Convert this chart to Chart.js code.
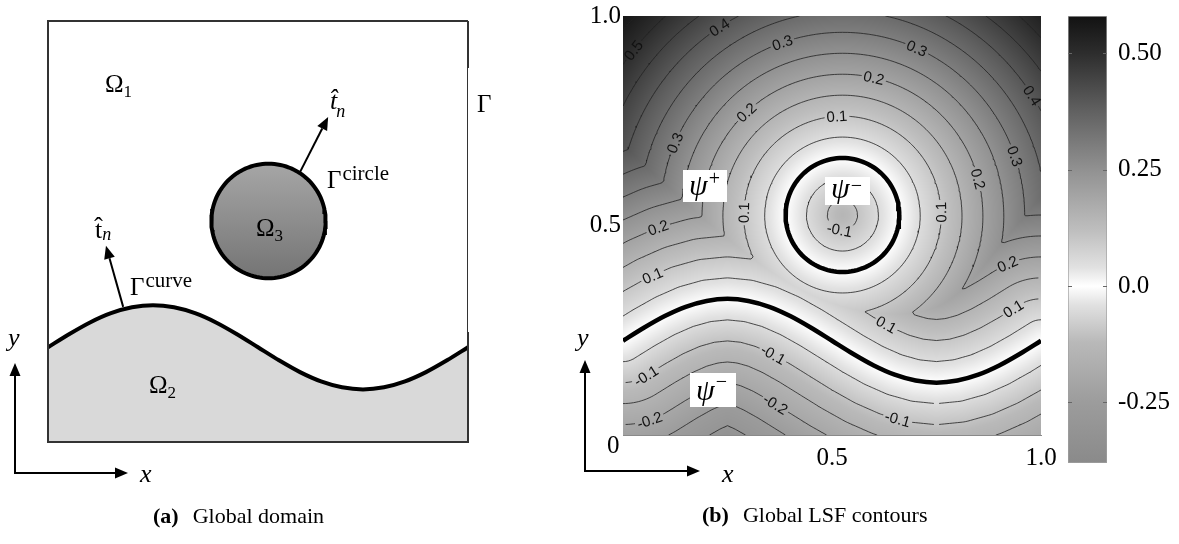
<!DOCTYPE html>
<html>
<head>
<meta charset="utf-8">
<script src="https://cdn.jsdelivr.net/npm/chart.js@4.4.1/dist/chart.umd.min.js"></script>
<style>
html, body { margin: 0; padding: 0; background: #fff; }
#wrap { position: relative; width: 1179px; height: 544px; overflow: hidden; }
canvas { position: absolute; top: 0; }
</style>
</head>
<body>
<div id="wrap">
  <canvas id="domain" width="560" height="544" style="left:0"></canvas>
  <canvas id="lsf" width="500" height="544" style="left:560px"></canvas>
  <canvas id="cbar" width="129" height="544" style="left:1050px"></canvas>
</div>
<script>
// Interface geometry (unit square domain)
const curveX = [0, 0.05, 0.1, 0.15, 0.2, 0.25, 0.3, 0.35, 0.4, 0.45, 0.5,
                0.55, 0.6, 0.65, 0.7, 0.75, 0.8, 0.85, 0.9, 0.95, 1.0];
const curveY = [0.225, 0.256, 0.284, 0.306, 0.320, 0.325, 0.320, 0.306, 0.284, 0.256, 0.225,
                0.194, 0.166, 0.144, 0.130, 0.125, 0.130, 0.144, 0.166, 0.194, 0.225];
const circleCenter = [0.525, 0.525];
const circleRadius = 0.136;

// Contour levels (0 is drawn as the thick interface lines)
const contourLevels = [-0.3, -0.25, -0.2, -0.15, -0.1, -0.05,
                       0.05, 0.1, 0.15, 0.2, 0.25, 0.3, 0.35, 0.4, 0.45, 0.5, 0.55];

// Inline contour labels: value and rough spot where it sits
const labelValues = [0.5, 0.4, 0.3, 0.3, 0.2, 0.4, 0.2, 0.1, 0.3, 0.3, 0.2, 0.1,
                     0.1, -0.1, 0.2, 0.2, 0.1, 0.1, 0.1, -0.1, -0.1, -0.2, -0.1, -0.2];
const labelX = [0.024, 0.232, 0.383, 0.699, 0.598, 0.969, 0.297, 0.512, 0.124, 0.933, 0.842, 0.299,
                0.763, 0.519, 0.084, 0.921, 0.072, 0.938, 0.627, 0.356, 0.057, 0.364, 0.655, 0.065];
const labelY = [0.919, 0.971, 0.931, 0.914, 0.843, 0.804, 0.768, 0.759, 0.697, 0.664, 0.609, 0.530,
                0.532, 0.494, 0.494, 0.406, 0.377, 0.294, 0.258, 0.186, 0.138, 0.072, 0.031, 0.031];

// Axis ticks
const axisTicks = [0.5, 1.0];
const axisTickLabels = ['0.5', '1.0'];

// Colour bar
const cbarRange = [-0.38, 0.58];
const cbarTicks = [-0.25, 0, 0.25, 0.5];
const cbarTickLabels = ['-0.25', '0.0', '0.25', '0.50'];
const cmapStops = [-0.38, -0.25, -0.12, -0.04, 0, 0.04, 0.12, 0.25, 0.38, 0.5, 0.58];
const cmapGrays = [138, 156, 185, 225, 255, 225, 190, 145, 95, 45, 18];

Chart.defaults.font.family = '"Liberation Serif", serif';
Chart.defaults.color = '#000';

const SERIF = '"Liberation Serif", serif';
const LABEL_FONT = '15px "Liberation Sans", Arial, sans-serif';

function curveYAt(x) {
    for (let k = 0; k < curveX.length - 1; k++) {
        if (x <= curveX[k + 1]) {
            const t = (x - curveX[k]) / (curveX[k + 1] - curveX[k]);
            return curveY[k] + t * (curveY[k + 1] - curveY[k]);
        }
    }
    return curveY[curveY.length - 1];
}

// Signed distance level-set function: negative below the curve and inside the circle
function lsf(x, y) {
    let best = Infinity;
    for (let k = 0; k < curveX.length - 1; k++) {
        const ax = curveX[k], ay = curveY[k];
        const dx = curveX[k + 1] - ax, dy = curveY[k + 1] - ay;
        let t = ((x - ax) * dx + (y - ay) * dy) / (dx * dx + dy * dy);
        t = Math.max(0, Math.min(1, t));
        const ex = ax + t * dx - x, ey = ay + t * dy - y;
        const d = ex * ex + ey * ey;
        if (d < best) best = d;
    }
    const dCurve = (y >= curveYAt(x) ? 1 : -1) * Math.sqrt(best);
    const dCircle = Math.hypot(x - circleCenter[0], y - circleCenter[1]) - circleRadius;
    return Math.min(dCurve, dCircle);
}

function grayFor(v) {
    if (v <= cmapStops[0]) return cmapGrays[0];
    for (let k = 0; k < cmapStops.length - 1; k++) {
        if (v <= cmapStops[k + 1]) {
            const t = (v - cmapStops[k]) / (cmapStops[k + 1] - cmapStops[k]);
            return Math.round(cmapGrays[k] + t * (cmapGrays[k + 1] - cmapGrays[k]));
        }
    }
    return cmapGrays[cmapGrays.length - 1];
}

function curvePoints() {
    return curveX.map((x, i) => ({ x: x, y: curveY[i] }));
}

function circlePoints() {
    const pts = [];
    for (let k = 0; k <= 120; k++) {
        const a = k / 120 * 2 * Math.PI;
        pts.push({ x: circleCenter[0] + circleRadius * Math.cos(a), y: circleCenter[1] + circleRadius * Math.sin(a) });
    }
    return pts;
}

// Marching squares on a grid sampled from the LSF
const N = 161;
const grid = [];
for (let j = 0; j < N; j++) {
    const row = [];
    for (let i = 0; i < N; i++) row.push(lsf(i / (N - 1), j / (N - 1)));
    grid.push(row);
}

function contourData(level) {
    const pts = [];
    const s = 1 / (N - 1);
    for (let j = 0; j < N - 1; j++) {
        for (let i = 0; i < N - 1; i++) {
            const v = [grid[j][i], grid[j][i + 1], grid[j + 1][i + 1], grid[j + 1][i]];
            const X = [i * s, (i + 1) * s, (i + 1) * s, i * s];
            const Y = [j * s, j * s, (j + 1) * s, (j + 1) * s];
            const cross = [];
            for (let e = 0; e < 4; e++) {
                const a = e, b = (e + 1) % 4;
                if ((v[a] - level) * (v[b] - level) < 0) {
                    const t = (level - v[a]) / (v[b] - v[a]);
                    cross.push({ x: X[a] + t * (X[b] - X[a]), y: Y[a] + t * (Y[b] - Y[a]) });
                }
            }
            if (cross.length === 2) {
                pts.push(cross[0], cross[1], { x: cross[1].x, y: null });
            } else if (cross.length === 4) {
                const c = (v[0] + v[1] + v[2] + v[3]) / 4;
                if ((c - level) * (v[0] - level) > 0) {
                    pts.push(cross[0], cross[1], { x: cross[1].x, y: null }, cross[2], cross[3], { x: cross[3].x, y: null });
                } else {
                    pts.push(cross[3], cross[0], { x: cross[0].x, y: null }, cross[1], cross[2], { x: cross[2].x, y: null });
                }
            }
        }
    }
    return pts;
}

function arrow(ctx, x1, y1, x2, y2) {
    const a = Math.atan2(y2 - y1, x2 - x1), L = 13, W = 5.5;
    const bx = x2 - L * Math.cos(a), by = y2 - L * Math.sin(a);
    ctx.save();
    ctx.strokeStyle = '#000';
    ctx.fillStyle = '#000';
    ctx.lineWidth = 2;
    ctx.beginPath();
    ctx.moveTo(x1, y1);
    ctx.lineTo(bx, by);
    ctx.stroke();
    ctx.beginPath();
    ctx.moveTo(x2, y2);
    ctx.lineTo(bx + W * Math.sin(a), by - W * Math.cos(a));
    ctx.lineTo(bx - W * Math.sin(a), by + W * Math.cos(a));
    ctx.closePath();
    ctx.fill();
    ctx.restore();
}

function txt(ctx, s, x, y, size, style) {
    ctx.font = (style || '') + ' ' + size + 'px ' + SERIF;
    ctx.fillText(s, x, y);
    return ctx.measureText(s).width;
}

function axisArrows(ctx, cx, cy, top, right, ylab, xlab) {
    arrow(ctx, cx, cy + 1, cx, top);
    arrow(ctx, cx - 1, cy, right, cy);
    ctx.fillStyle = '#000';
    txt(ctx, 'y', ylab[0], ylab[1], 26, 'italic');
    txt(ctx, 'x', xlab[0], xlab[1], 26, 'italic');
}

function caption(ctx, tag, text, x, y) {
    ctx.fillStyle = '#000';
    const w = txt(ctx, tag, x, y, 22, 'bold');
    txt(ctx, text, x + w + 14, y, 22, '');
}

// keep the chart area where the figure has it: no extra room for edge labels
function noEdgePadding(s) {
    s.paddingTop = 0;
    s.paddingBottom = 0;
    s.paddingLeft = 0;
    s.paddingRight = 0;
}

// ---------- (a) Global domain ----------
const domainPlugin = {
    id: 'domainDecor',
    afterDatasetsDraw(chart) {
        const { ctx, chartArea: a, scales: { x, y } } = chart;
        ctx.save();
        // boundary Γ
        ctx.strokeStyle = '#333';
        ctx.lineWidth = 2;
        ctx.beginPath();
        ctx.moveTo(a.right, a.top);
        ctx.lineTo(a.left, a.top);
        ctx.lineTo(a.left, a.bottom);
        ctx.lineTo(a.right, a.bottom);
        ctx.lineTo(a.right, a.bottom - 110);
        ctx.moveTo(a.right, a.top);
        ctx.lineTo(a.right, a.top + 47);
        ctx.stroke();
        ctx.lineWidth = 1;
        ctx.beginPath();
        ctx.moveTo(a.right - 0.5, a.top);
        ctx.lineTo(a.right - 0.5, a.bottom);
        ctx.stroke();

        // normal vectors
        arrow(ctx, x.getPixelForValue(0.600), y.getPixelForValue(0.641), x.getPixelForValue(0.667), y.getPixelForValue(0.772));
        arrow(ctx, x.getPixelForValue(0.179), y.getPixelForValue(0.321), x.getPixelForValue(0.138), y.getPixelForValue(0.466));

        ctx.fillStyle = '#000';
        let w = txt(ctx, 'Ω', 105, 92, 25, '');
        txt(ctx, '1', 105 + w, 97, 17, '');
        w = txt(ctx, 'Ω', 256, 236, 25, '');
        txt(ctx, '3', 256 + w, 241, 17, '');
        w = txt(ctx, 'Ω', 149, 393, 25, '');
        txt(ctx, '2', 149 + w, 398, 17, '');

        w = txt(ctx, 't\u0302', 330, 109, 26, 'italic');
        txt(ctx, 'n', 330 + w - 1, 117, 18, 'italic');
        w = txt(ctx, 't\u0302', 95, 238, 26, '');
        txt(ctx, 'n', 95 + w, 240, 18, 'italic');

        w = txt(ctx, 'Γ', 327, 188, 25, '');
        txt(ctx, 'circle', 327 + w + 1, 180, 21, '');
        w = txt(ctx, 'Γ', 130, 295, 25, '');
        txt(ctx, 'curve', 130 + w + 1, 287, 21, '');
        txt(ctx, 'Γ', 477, 112, 25, '');

        axisArrows(ctx, 15, 473, 363, 128, [8, 346], [140, 482]);
        caption(ctx, '(a)', 'Global domain', 153, 523);
        ctx.restore();
    }
};

new Chart(document.getElementById('domain'), {
    type: 'scatter',
    data: {
        datasets: [
            {
                label: 'curve',
                data: curvePoints(),
                showLine: true,
                pointRadius: 0,
                borderColor: '#000',
                borderWidth: 4,
                tension: 0.3,
                fill: 'start',
                backgroundColor: '#d9d9d9'
            },
            {
                label: 'circle',
                data: circlePoints(),
                showLine: true,
                pointRadius: 0,
                borderColor: '#000',
                borderWidth: 4,
                fill: 'shape',
                backgroundColor: (c) => {
                    const ch = c.chart;
                    if (!ch.chartArea) return '#8c8c8c';
                    const ys = ch.scales.y;
                    const g = ch.ctx.createLinearGradient(0, ys.getPixelForValue(circleCenter[1] + circleRadius), 0, ys.getPixelForValue(circleCenter[1] - circleRadius));
                    g.addColorStop(0, '#a6a6a6');
                    g.addColorStop(1, '#747474');
                    return g;
                }
            }
        ]
    },
    options: {
        responsive: false,
        animation: false,
        devicePixelRatio: 1,
        events: [],
        layout: { padding: { left: 48, top: 21, right: 92, bottom: 102 } },
        plugins: { legend: { display: false }, tooltip: { enabled: false } },
        scales: {
            x: { type: 'linear', min: 0, max: 1, display: false },
            y: { type: 'linear', min: 0, max: 1, display: false }
        }
    },
    plugins: [domainPlugin]
});

// ---------- (b) Global LSF contours ----------
function placeLabels(chart) {
    const { ctx, chartArea: a } = chart;
    const sx = a.right - a.left, sy = a.bottom - a.top;
    const xs = chart.scales.x, ys = chart.scales.y;
    ctx.font = LABEL_FONT;
    const h = 1e-3;
    return labelValues.map((L, i) => {
        let px = labelX[i], py = labelY[i], gx = 0, gy = 0;
        for (let it = 0; it < 3; it++) {
            const f = lsf(px, py);
            gx = (lsf(px + h, py) - lsf(px - h, py)) / (2 * h);
            gy = (lsf(px, py + h) - lsf(px, py - h)) / (2 * h);
            const g2 = gx * gx + gy * gy || 1;
            px += (L - f) * gx / g2;
            py += (L - f) * gy / g2;
        }
        let ang = Math.atan2(-gx * sy, -gy * sx);
        if (ang > Math.PI / 2 - 0.05) ang -= Math.PI;
        if (ang < -Math.PI / 2 - 0.05) ang += Math.PI;
        const text = L.toFixed(1);
        return { x: xs.getPixelForValue(px), y: ys.getPixelForValue(py), ang: ang, text: text, w: ctx.measureText(text).width + 4, h: 14 };
    });
}

function psiBox(ctx, x, y, w, h, sup) {
    ctx.fillStyle = '#fff';
    ctx.fillRect(x, y, w, h);
    ctx.fillStyle = '#000';
    const tw = txt(ctx, 'ψ', x + 6, y + h - 7, 30, 'italic');
    txt(ctx, sup, x + 6 + tw + 1, y + 15, 20, '');
}

const lsfPlugin = {
    id: 'lsfDecor',
    beforeDatasetsDraw(chart) {
        const { ctx, chartArea: a, scales: { x, y } } = chart;
        if (!chart.$heat) {
            const w = Math.round(a.right - a.left), h = Math.round(a.bottom - a.top);
            const off = document.createElement('canvas');
            off.width = w;
            off.height = h;
            const octx = off.getContext('2d');
            const img = octx.createImageData(w, h);
            for (let j = 0; j < h; j++) {
                const vy = y.getValueForPixel(a.top + j + 0.5);
                for (let i = 0; i < w; i++) {
                    const vx = x.getValueForPixel(a.left + i + 0.5);
                    const g = grayFor(lsf(vx, vy));
                    const k = (j * w + i) * 4;
                    img.data[k] = g;
                    img.data[k + 1] = g;
                    img.data[k + 2] = g;
                    img.data[k + 3] = 255;
                }
            }
            octx.putImageData(img, 0, 0);
            chart.$heat = off;
            chart.$labels = placeLabels(chart);
        }
        ctx.drawImage(chart.$heat, a.left, a.top, a.right - a.left, a.bottom - a.top);
    },
    beforeDatasetDraw(chart, args) {
        if (!args.meta._dataset.isContour) return;
        const { ctx, chartArea: a } = chart;
        ctx.save();
        ctx.beginPath();
        ctx.rect(a.left - 5, a.top - 5, a.right - a.left + 10, a.bottom - a.top + 10);
        chart.$labels.forEach(l => {
            const c = Math.cos(l.ang), s = Math.sin(l.ang);
            const hw = l.w / 2, hh = l.h / 2;
            const corners = [[-hw, -hh], [hw, -hh], [hw, hh], [-hw, hh]];
            corners.forEach((p, k) => {
                const qx = l.x + p[0] * c - p[1] * s, qy = l.y + p[0] * s + p[1] * c;
                if (k === 0) ctx.moveTo(qx, qy); else ctx.lineTo(qx, qy);
            });
            ctx.closePath();
        });
        ctx.clip('evenodd');
    },
    afterDatasetDraw(chart, args) {
        if (!args.meta._dataset.isContour) return;
        chart.ctx.restore();
    },
    afterDatasetsDraw(chart) {
        const { ctx } = chart;
        ctx.save();
        ctx.fillStyle = '#111';
        ctx.font = LABEL_FONT;
        ctx.textAlign = 'center';
        ctx.textBaseline = 'middle';
        chart.$labels.forEach(l => {
            ctx.save();
            ctx.translate(l.x, l.y);
            ctx.rotate(l.ang);
            ctx.fillText(l.text, 0, 1);
            ctx.restore();
        });
        ctx.textAlign = 'left';
        ctx.textBaseline = 'alphabetic';
        psiBox(ctx, 123, 170, 44, 32, '+');
        psiBox(ctx, 265, 177, 45, 28, '−');
        psiBox(ctx, 130, 373, 46, 34, '−');
        ctx.restore();
    },
    afterDraw(chart) {
        const { ctx } = chart;
        ctx.save();
        ctx.fillStyle = '#000';
        txt(ctx, '0', 47, 453, 25, '');
        axisArrows(ctx, 25, 471, 360, 140, [17, 346], [162, 482]);
        caption(ctx, '(b)', 'Global LSF contours', 142, 522);
        ctx.restore();
    }
};

const lsfDatasets = contourLevels.map(level => ({
    label: 'level ' + level,
    isContour: true,
    data: contourData(level),
    showLine: true,
    spanGaps: false,
    pointRadius: 0,
    borderColor: 'rgba(35,35,35,0.9)',
    borderWidth: 0.9
}));
lsfDatasets.push({
    label: 'curve',
    data: curvePoints(),
    showLine: true,
    pointRadius: 0,
    borderColor: '#000',
    borderWidth: 4.5,
    tension: 0.3
});
lsfDatasets.push({
    label: 'circle',
    data: circlePoints(),
    showLine: true,
    pointRadius: 0,
    borderColor: '#000',
    borderWidth: 4.5
});

new Chart(document.getElementById('lsf'), {
    type: 'scatter',
    data: { datasets: lsfDatasets },
    options: {
        responsive: false,
        animation: false,
        devicePixelRatio: 1,
        events: [],
        layout: { padding: { left: 13, top: 16, right: 19, bottom: 69 } },
        plugins: { legend: { display: false }, tooltip: { enabled: false } },
        scales: {
            x: {
                type: 'linear', min: 0, max: 1,
                afterBuildTicks: s => { s.ticks = axisTicks.map(v => ({ value: v })); },
                afterFit: s => { s.height = 40; noEdgePadding(s); },
                grid: { display: false, drawTicks: false },
                border: { display: true, color: '#8a8a8a', width: 1 },
                ticks: { padding: 8, color: '#000', font: { size: 25 }, maxRotation: 0,
                         callback: (v, i) => axisTickLabels[i] }
            },
            y: {
                type: 'linear', min: 0, max: 1,
                afterBuildTicks: s => { s.ticks = axisTicks.map(v => ({ value: v })); },
                afterFit: s => { s.width = 50; noEdgePadding(s); },
                grid: { display: false, drawTicks: false },
                border: { display: false },
                ticks: { padding: 2, color: '#000', font: { size: 25 },
                         callback: (v, i) => axisTickLabels[i] }
            }
        }
    },
    plugins: [lsfPlugin]
});

// ---------- colour bar ----------
const cbarPlugin = {
    id: 'cbarTicks',
    afterDatasetsDraw(chart) {
        const { ctx, chartArea: a, scales: { y } } = chart;
        ctx.save();
        ctx.strokeStyle = '#666';
        ctx.lineWidth = 1;
        cbarTicks.forEach(v => {
            const py = Math.round(y.getPixelForValue(v)) + 0.5;
            ctx.beginPath();
            ctx.moveTo(a.left, py);
            ctx.lineTo(a.left + 4, py);
            ctx.moveTo(a.right - 4, py);
            ctx.lineTo(a.right, py);
            ctx.stroke();
        });
        ctx.restore();
    }
};

new Chart(document.getElementById('cbar'), {
    type: 'bar',
    data: {
        labels: ['LSF'],
        datasets: [{
            data: [cbarRange],
            barPercentage: 1,
            categoryPercentage: 1,
            borderWidth: 1,
            borderColor: '#a0a0a0',
            borderSkipped: false,
            backgroundColor: (c) => {
                const ch = c.chart;
                if (!ch.chartArea) return '#888';
                const ys = ch.scales.y;
                const top = ys.getPixelForValue(cbarRange[1]), bot = ys.getPixelForValue(cbarRange[0]);
                const g = ch.ctx.createLinearGradient(0, top, 0, bot);
                cmapStops.forEach((v, k) => {
                    const t = (ys.getPixelForValue(v) - top) / (bot - top);
                    const gr = cmapGrays[k];
                    g.addColorStop(Math.min(1, Math.max(0, t)), 'rgb(' + gr + ',' + gr + ',' + gr + ')');
                });
                return g;
            }
        }]
    },
    options: {
        responsive: false,
        animation: false,
        devicePixelRatio: 1,
        events: [],
        layout: { padding: { left: 18, top: 16, right: 0, bottom: 81 } },
        plugins: { legend: { display: false }, tooltip: { enabled: false } },
        scales: {
            x: { display: false },
            y: {
                position: 'right',
                min: cbarRange[0], max: cbarRange[1],
                afterBuildTicks: s => { s.ticks = cbarTicks.map(v => ({ value: v })); },
                afterFit: s => { s.width = 72; noEdgePadding(s); },
                grid: { display: false, drawTicks: false },
                border: { display: false },
                ticks: { padding: 11, color: '#000', font: { size: 25 },
                         callback: (v, i) => cbarTickLabels[i] }
            }
        }
    },
    plugins: [cbarPlugin]
});
</script>
</body>
</html>
